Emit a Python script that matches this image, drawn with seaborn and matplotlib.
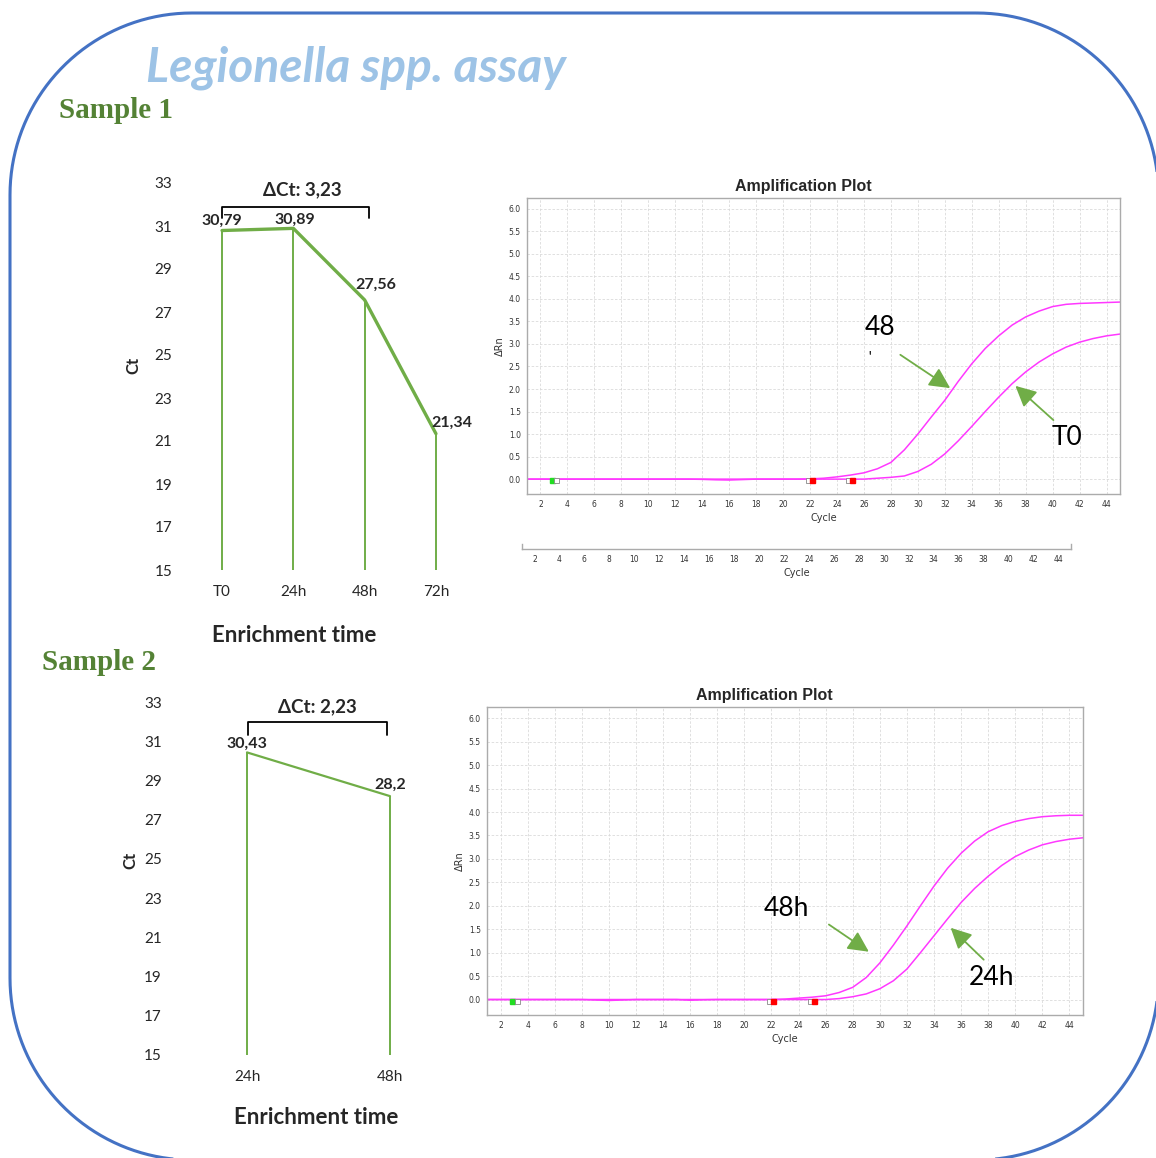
import numpy as np
import pandas as pd
import matplotlib
matplotlib.use("Agg")
import matplotlib.pyplot as plt
import seaborn as sns
from matplotlib.patches import Polygon

# ---------------- data ----------------
# Ct values per enrichment time
s1_times = ["T0", "24h", "48h", "72h"]
s1_ct = [30.79, 30.89, 27.56, 21.34]
s2_times = ["24h", "48h"]
s2_ct = [30.43, 28.2]
ct_ticks = list(range(15, 34, 2))

# amplification curves (delta Rn per cycle)
cycles = list(range(1, 46))
s1_rn_48h = [0, 0, 0, 0, 0, 0, 0, 0, 0, 0, 0, 0, 0, -0.005, -0.015, -0.02, -0.01, 0,
             0, 0, 0, 0.005, 0.02, 0.05, 0.09, 0.14, 0.23, 0.37, 0.65, 1.0, 1.38, 1.75,
             2.17, 2.56, 2.9, 3.18, 3.42, 3.6, 3.73, 3.83, 3.88, 3.9, 3.91, 3.92, 3.93]
s1_rn_t0 = [0, 0, 0, 0, 0, 0, 0, 0, 0, 0, 0, 0, 0, 0, 0, 0, 0, 0,
            0, 0, 0, 0, 0, 0, 0, 0, 0.02, 0.04, 0.07, 0.17, 0.33, 0.56,
            0.85, 1.17, 1.5, 1.82, 2.12, 2.38, 2.6, 2.78, 2.93, 3.04, 3.12, 3.18, 3.22]
s2_rn_48h = [0, 0, 0, 0, 0, 0, 0, 0, -0.01, -0.02, -0.01, 0, 0, 0, 0, -0.015, -0.005, 0,
             0, 0, 0, 0, 0.01, 0.03, 0.05, 0.08, 0.15, 0.26, 0.47, 0.78, 1.16, 1.57,
             2.0, 2.42, 2.8, 3.12, 3.38, 3.58, 3.71, 3.8, 3.86, 3.9, 3.92, 3.93, 3.93]
s2_rn_24h = [0, 0, 0, 0, 0, 0, 0, 0, 0, 0, 0, 0, 0, 0, 0, 0, 0, 0,
             0, 0, 0, 0, 0, 0, 0, 0, 0.02, 0.06, 0.12, 0.23, 0.4, 0.65,
             1.0, 1.36, 1.72, 2.07, 2.37, 2.63, 2.86, 3.05, 3.19, 3.3, 3.37, 3.42, 3.45]
cycle_ticks = list(range(2, 45, 2))
rn_ticks = [0.0, 0.5, 1.0, 1.5, 2.0, 2.5, 3.0, 3.5, 4.0, 4.5, 5.0, 5.5, 6.0]
baseline_start = 3
baseline_ends = [22, 25]

# ---------------- style ----------------
sns.set_style("white")
plt.rcParams["font.family"] = ["Lato", "DejaVu Sans"]

GREEN = "#70AD47"
DARK_GREEN = "#548235"
BLUE = "#4472C4"
LIGHT_BLUE = "#9DC3E6"
MAGENTA = "#FF38FF"

W, H = 1156, 1158
fig = plt.figure(figsize=(W / 100, H / 100), dpi=100)
fig.patch.set_facecolor("white")


def add_ax(x0, y0, x1, y1, **kw):
    return fig.add_axes([x0 / W, 1 - y1 / H, (x1 - x0) / W, (y1 - y0) / H], **kw)


def fmt(v):
    return f"{v:g}".replace(".", ",")


def ct_chart(rect, times, ct, offsets, bracket, lw_main):
    ax = add_ax(*rect)
    ax.patch.set_alpha(0)
    df = pd.DataFrame({"time": times, "Ct": ct})
    pos = np.arange(len(times))
    ax.vlines(pos, 15, ct, color=GREEN, lw=1.4)
    sns.lineplot(data=df, x="time", y="Ct", sort=False, color=GREEN, lw=lw_main, ax=ax)
    ax.set_xlim(-0.5, len(times) - 0.5)
    ax.set_ylim(15, 33)
    ax.set_yticks(ct_ticks)
    ax.set_xticks(pos)
    ax.set_xticklabels(times)
    ax.set_xlabel("")
    ax.set_ylabel("")
    for s in ax.spines.values():
        s.set_visible(False)
    ax.tick_params(axis="y", length=0, pad=10, labelsize=11, labelcolor="#262626")
    ax.tick_params(axis="x", length=0, pad=11, labelsize=11, labelcolor="#262626")
    for x, y, off in zip(pos, ct, offsets):
        ax.annotate(fmt(y), (x, y), xytext=off, textcoords="offset points",
                    ha="center", va="center", fontsize=11.5, fontweight="bold",
                    annotation_clip=False)
    # bracket between first and 48h time points with the Ct difference
    i0, i1 = 0, times.index("48h")
    bx0, bx1, btop, bleg, tdx = bracket
    ax.plot([i0 + bx0, i0 + bx0, i1 + bx1, i1 + bx1], [bleg, btop, btop, bleg],
            color="black", lw=1.3, clip_on=False)
    dct = round(ct[i0] - ct[i1], 2)
    ax.text((i0 + bx0 + i1 + bx1) / 2 + tdx, btop + 0.78, f"ΔCt: {fmt(dct)}",
            ha="center", va="center", fontsize=13.5, fontweight="bold")
    return ax


ax_s1 = ct_chart((186.4, 183, 471.6, 570), s1_times, s1_ct,
                 [(0, 7), (1, 6.5), (8, 11), (11.5, 8)], (0, 0.06, 31.9, 31.35, 0.09), 2.4)
ax_s2 = ct_chart((175.5, 702, 461.5, 1055), s2_times, s2_ct,
                 [(0, 6.5), (0, 8)], (0.01, -0.02, 31.98, 31.3, 0.0), 1.6)


def amp_plot(rect, curves, labels, arrows):
    ax = add_ax(*rect)
    n = len(cycles)
    df = pd.DataFrame({
        "Cycle": cycles * len(curves),
        "dRn": sum(curves, []),
        "well": sum([[k] * n for k in range(len(curves))], []),
    })
    sns.lineplot(data=df, x="Cycle", y="dRn", hue="well",
                 palette=[MAGENTA] * len(curves), lw=1.1, legend=False, ax=ax)
    ax.set_xlim(1, 45)
    ax.set_ylim(-0.33, 6.24)
    ax.set_xticks(cycle_ticks)
    ax.set_yticks(rn_ticks)
    ax.set_yticklabels([f"{v:.1f}" for v in rn_ticks])
    ax.grid(True, ls=(0, (3, 2)), color="#DADADA", lw=0.6)
    for s in ax.spines.values():
        s.set_color("#ABABAB")
        s.set_linewidth(1.0)
    ax.tick_params(labelsize=5.5, labelcolor="#333333", length=2.5, width=0.6,
                   color="#888888", pad=2)
    ax.set_xlabel("Cycle", fontsize=7, color="#333333", family="DejaVu Sans", labelpad=3)
    ax.set_ylabel("ΔRn", fontsize=7, color="#333333", family="DejaVu Sans", labelpad=3)
    for t in ax.get_xticklabels() + ax.get_yticklabels():
        t.set_family("DejaVu Sans")
    ax.set_title("Amplification Plot", fontsize=11.5, fontweight="bold",
                 family=["Liberation Sans Narrow", "Liberation Sans"], pad=5, x=0.466)
    # baseline start / end markers
    ax.plot(baseline_start - 0.12, -0.03, "s", ms=3.6, mfc="#22DD22", mec="#22DD22", zorder=5)
    ax.plot(baseline_start + 0.18, -0.03, "s", ms=3.6, mfc="white", mec="#888888", mew=0.6, zorder=5)
    for be in baseline_ends:
        ax.plot(be - 0.15, -0.03, "s", ms=3.6, mfc="white", mec="#888888", mew=0.6, zorder=5)
        ax.plot(be + 0.12, -0.03, "s", ms=3.6, mfc="#FF0000", mec="#FF0000", zorder=5)
    for txt, x, y in labels:
        ax.text(x, y, txt, fontsize=19, ha="center", va="center", color="black")
    for (x0, y0), (x1, y1) in arrows:
        ax.annotate("", xy=(x1, y1), xytext=(x0, y0),
                    arrowprops=dict(arrowstyle="-|>,head_length=0.9,head_width=0.45",
                                    color=GREEN, lw=1.3, shrinkA=0, shrinkB=0,
                                    mutation_scale=14))
    return ax


amp1 = amp_plot((527, 198, 1120, 494), [s1_rn_48h, s1_rn_t0],
                [("48", 27.2, 3.36), ("T0", 41.1, 0.93)],
                [((28.7, 2.76), (32.4, 2.02)), ((40.06, 1.31), (37.24, 2.07))])
amp1.text(26.4, 2.71, "'", fontsize=9, fontweight="bold", ha="center", va="center")

amp2 = amp_plot((487, 707, 1083, 1015), [s2_rn_48h, s2_rn_24h],
                [("48h", 23.08, 1.94), ("24h", 38.26, 0.47)],
                [((26.24, 1.6), (29.19, 1.02)), ((37.67, 0.85), (35.23, 1.53))])

# detached cycle axis strip below the first amplification plot
strip = add_ax(522, 544, 1071, 549)
strip.patch.set_alpha(0)
strip.set_xlim(1, 45)
strip.set_ylim(0, 1)
strip.set_yticks([])
strip.set_xticks(cycle_ticks)
strip.spines["top"].set_visible(False)
for k in ("bottom", "left", "right"):
    strip.spines[k].set_color("#ABABAB")
    strip.spines[k].set_linewidth(1.0)
strip.tick_params(axis="x", labelsize=5.5, labelcolor="#333333", length=2.5, width=0.6,
                  color="#888888", pad=2)
for t in strip.get_xticklabels():
    t.set_family("DejaVu Sans")
strip.set_xlabel("Cycle", fontsize=7, color="#333333", family="DejaVu Sans", labelpad=3)

# ---------------- page decorations ----------------
ov = fig.add_axes([0, 0, 1, 1], zorder=10)
ov.patch.set_alpha(0)
ov.set_xlim(0, W)
ov.set_ylim(H, 0)
ov.axis("off")


def rounded_frame(x0, y0, x1, y1, r, n=40):
    """Vertices of a rectangle with circular corners, in pixel units (y down)."""
    corners = [(x1 - r, y0 + r, -90, 0), (x1 - r, y1 - r, 0, 90),
               (x0 + r, y1 - r, 90, 180), (x0 + r, y0 + r, 180, 270)]
    pts = []
    for cx, cy, a0, a1 in corners:
        t = np.radians(np.linspace(a0, a1, n))
        pts.extend(zip(cx + r * np.cos(t), cy + r * np.sin(t)))
    return np.array(pts)


ov.add_patch(Polygon(rounded_frame(10, 13, 1158.5, 1160, 182), closed=True,
                     fill=False, ec=BLUE, lw=2.2, joinstyle="round", clip_on=False))

ov.text(356, 68, "Legionella spp. assay", fontsize=34.5, fontweight="bold",
        fontstyle="italic", color=LIGHT_BLUE, ha="center", va="center")
serif = ["Liberation Serif", "DejaVu Serif"]
ov.text(59, 111, "Sample 1", fontsize=21, fontweight="bold", family=serif,
        color=DARK_GREEN, ha="left", va="center")
ov.text(42, 663, "Sample 2", fontsize=21, fontweight="bold", family=serif,
        color=DARK_GREEN, ha="left", va="center")
ov.text(133, 365, "Ct", fontsize=12, fontweight="bold", rotation=90, ha="center", va="center")
ov.text(130, 860, "Ct", fontsize=12, fontweight="bold", rotation=90, ha="center", va="center")
ov.text(294, 636, "Enrichment time", fontsize=16, fontweight="bold", ha="center", va="center")
ov.text(316, 1117, "Enrichment time", fontsize=16, fontweight="bold", ha="center", va="center")

fig.savefig("out.png", dpi=100, facecolor="white")
